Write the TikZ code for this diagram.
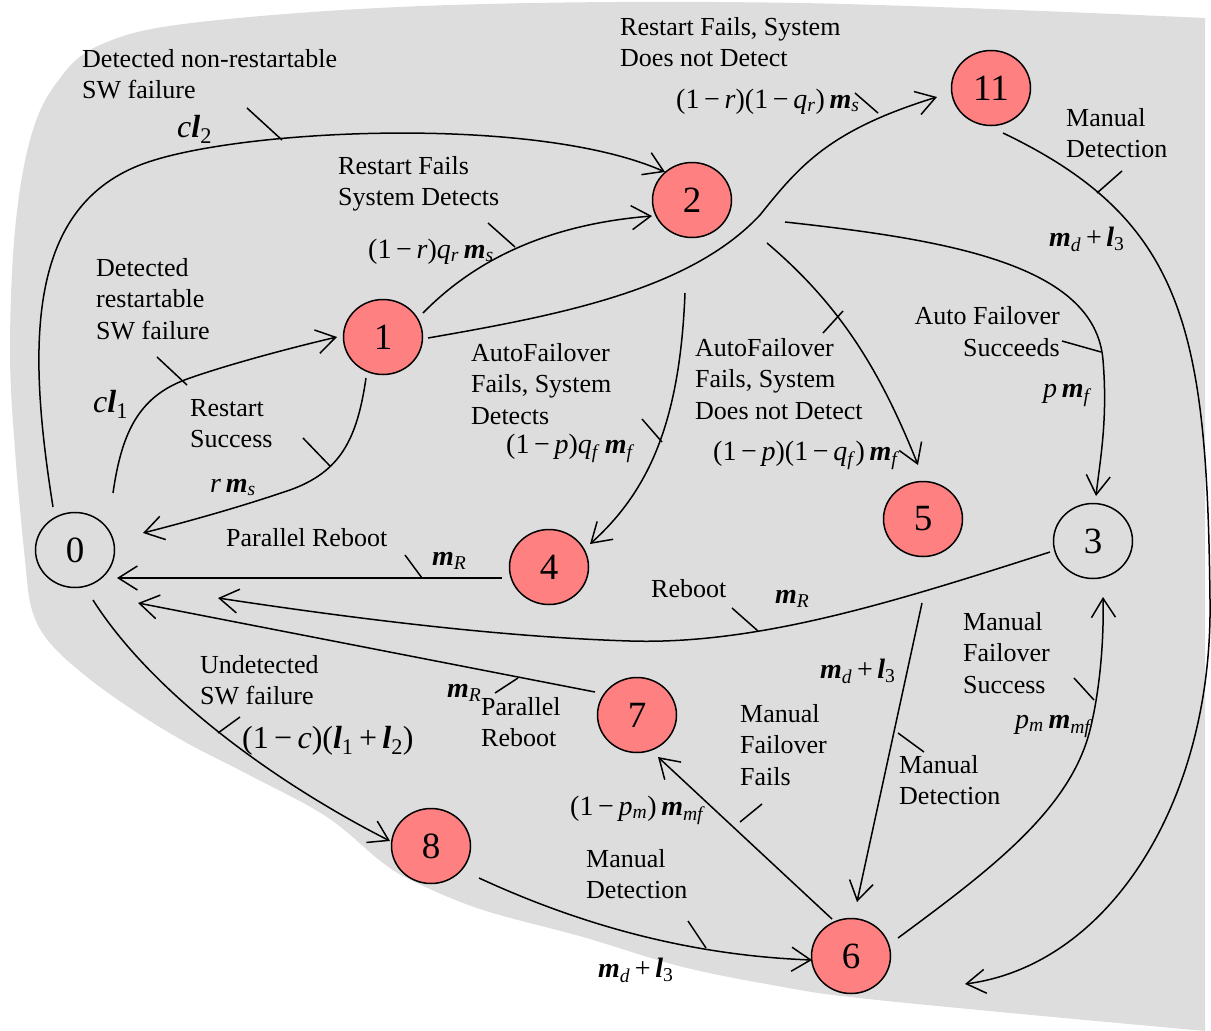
\documentclass[tikz,border=0pt]{standalone}
\usepackage{fontspec}
\setmainfont{Liberation Serif}
\usetikzlibrary{arrows.meta,shapes.geometric,calc}
\definecolor{bggrey}{RGB}{221,221,221}
\definecolor{pinkfill}{RGB}{255,128,128}
\newcommand{\vm}{\textbf{\textit{m}}}
\newcommand{\vl}{\textbf{\textit{l}}}
\newcommand{\mi}[1]{\textit{#1}}
\newcommand{\sbx}[1]{\textsubscript{#1}}
\begin{document}
\begin{tikzpicture}[x=1pt,y=-1pt,
  state/.style={ellipse, draw, line width=1.5pt, minimum width=79pt, minimum height=75pt, inner sep=0pt, font=\fontsize{37}{40}\selectfont},
  fail/.style={state, fill=pinkfill},
  lbl/.style={anchor=base west, inner sep=0pt, align=left, font=\fontsize{26}{31.5}\selectfont},
  mlbl/.style={anchor=base west, inner sep=0pt, font=\fontsize{28}{34}\selectfont},
  blbl/.style={anchor=base west, inner sep=0pt, font=\fontsize{32}{36}\selectfont},
  edge/.style={line width=1.5pt, -{Straight Barb[length=19pt,width=24pt]}},
  tick/.style={line width=1.5pt}]
\useasboundingbox (0,0) rectangle (1211,1031);
% background blob
\fill[bggrey] plot[smooth, tension=0.6] coordinates {(1205,18) (800,3) (450,5) (200,22) (100,45) (55,85) (30,140) (15,230) (10,350) (15,450) (25,560) (32,610) (50,643) (87,677) (133,710) (187,743) (253,777) (327,817) (383,863) (417,883) (483,910) (583,937) (683,967) (783,987) (850,997) (1000,1012) (1205,1031)} -- cycle;
% states
\node[state] (n0) at (75,550) {0};
\node[fail] (n1) at (383,337) {1};
\node[fail] (n2) at (692,200) {2};
\node[fail] (n11) at (991,88) {11};
\node[fail] (n4) at (549,567) {4};
\node[fail] (n5) at (923,519) {5};
\node[state] (n3) at (1093,541) {3};
\node[fail] (n7) at (637,715) {7};
\node[fail] (n8) at (431,846) {8};
\node[fail] (n6) at (851,956) {6};
% E1 0 -> 2
\draw[edge] ($(n0.center)+(-22,-43)$) .. controls (28,350) and (25,210) .. (140,165) .. controls (232,129) and (535,114) .. ($(n2.center)+(-27,-28)$);
\draw[tick] (247,108) -- (282,140);
\node[lbl] (t1) at (82,98.5) {Detected non-restartable\\SW failure};
\node[blbl] (m1) at (177,137) {\mi{c}\vl\sbx{2}};
% E2 0 -> 1
\draw[edge] ($(n0.center)+(38,-57)$) .. controls (122,430) and (140,395) .. (190,378) .. controls (230,364) and (290,348) .. ($(n1.center)+(-46,0)$);
\draw[tick] (157,357) -- (187,385);
\node[lbl] (t2) at (96,339) {Detected\\restartable\\SW failure};
\node[blbl] (m2) at (93,412) {\mi{c}\vl\sbx{1}};
% E3 1 -> 0
\draw[edge] ($(n1.center)+(-17,41)$) .. controls (357,440) and (340,472) .. (290,490) .. controls (240,507) and (190,521) .. ($(n0.center)+(68,-17)$);
\draw[tick] (303,438) -- (330,466);
\node[lbl] (t3) at (190,447.5) {Restart\\Success};
\node[mlbl] (m3) at (210,492) {\mi{r}\,\vm\sbx{\mi{s}}};
% E4 1 -> 2
\draw[edge] ($(n1.center)+(40,-24)$) .. controls (470,265) and (540,225) .. ($(n2.center)+(-40,16)$);
\draw[tick] (488,223) -- (515,247);
\node[lbl] (t4) at (338,205.5) {Restart Fails\\System Detects};
\node[mlbl] (m4) at (368,258) {(1\,−\,\mi{r})\mi{q}\sbx{\mi{r}}\,\vm\sbx{\mi{s}}};
% E5 1 -> 11
\draw[edge] ($(n1.center)+(45,1)$) .. controls (560,315) and (690,290) .. (760,215) .. controls (800,165) and (830,130) .. ($(n11.center)+(-54,9)$);
\draw[tick] (855,93) -- (878,113);
\node[lbl] (t5) at (620,66.5) {Restart Fails, System\\Does not Detect};
\node[mlbl] (m5) at (676,108) {(1\,−\,\mi{r})(1\,−\,\mi{q}\sbx{\mi{r}})\,\vm\sbx{\mi{s}}};
% E6 2 -> 3
\draw[edge] ($(n2.center)+(93,22)$) .. controls (950,240) and (1095,265) .. (1103,360) .. controls (1108,420) and (1100,460) .. ($(n3.center)+(3,-45)$);
\draw[tick] (1062,341) -- (1101,352);
\node[lbl, align=right, anchor=base east] (t6) at (1060,356) {Auto Failover\\Succeeds};
\node[mlbl] (m6) at (1043,397) {\mi{p}\,\vm\sbx{\mi{f}}};
% E7 2 -> 5
\draw[edge] ($(n2.center)+(75,43)$) .. controls (840,305) and (880,370) .. ($(n5.center)+(-5,-54)$);
\draw[tick] (823,333) -- (843,311);
\node[lbl] (t7) at (695,419) {AutoFailover\\Fails, System\\Does not Detect};
\node[mlbl] (m7) at (713,460) {(1\,−\,\mi{p})(1\,−\,\mi{q}\sbx{\mi{f}})\,\vm\sbx{\mi{f}}};
% E8 2 -> 4
\draw[edge] ($(n2.center)+(-7,93)$) .. controls (680,420) and (650,490) .. ($(n4.center)+(41,-23)$);
\draw[tick] (642,419) -- (662,442);
\node[lbl] (t8) at (471,424) {AutoFailover\\Fails, System\\Detects};
\node[mlbl] (m8) at (506,453) {(1\,−\,\mi{p})\mi{q}\sbx{\mi{f}}\,\vm\sbx{\mi{f}}};
% E9 4 -> 0
\draw[edge] ($(n4.center)+(-47,11)$) -- ($(n0.center)+(42,28)$);
\draw[tick] (405,555) -- (422,578);
\node[lbl] (t9) at (226,546) {Parallel Reboot};
\node[mlbl] (m9) at (432,565) {\vm\sbx{\mi{R}}};
% E10 3 -> 0
\draw[edge] ($(n3.center)+(-43,11)$) .. controls (900,600) and (760,645) .. (630,641) .. controls (500,637) and (350,618) .. ($(n0.center)+(143,48)$);
\draw[tick] (732,608) -- (758,631);
\node[lbl] (t10) at (651,597) {Reboot};
\node[mlbl] (m10) at (775,603) {\vm\sbx{\mi{R}}};
% E11 7 -> 0
\draw[edge] ($(n7.center)+(-42,-23)$) -- ($(n0.center)+(63,53)$);
\draw[tick] (495,693) -- (518,678);
\node[lbl] (t11) at (481,746.5) {Parallel\\Reboot};
\node[mlbl] (m11) at (447,697) {\vm\sbx{\mi{R}}};
% E12 0 -> 8
\draw[edge] ($(n0.center)+(18,50)$) .. controls (150,690) and (270,780) .. ($(n8.center)+(-41,-5)$);
\draw[tick] (218,733) -- (240,717);
\node[lbl] (t12) at (200,704.5) {Undetected\\SW failure};
\node[blbl] (m12) at (242,748) {(1\,−\,\mi{c})(\vl\sbx{1}\,+\,\vl\sbx{2})};
% E13 8 -> 6
\draw[edge] ($(n8.center)+(48,32)$) .. controls (570,920) and (680,955) .. ($(n6.center)+(-39,4)$);
\draw[tick] (688,921) -- (706,948);
\node[lbl] (t13) at (586,898.5) {Manual\\Detection};
\node[mlbl] (m13) at (598,977) {\vm\sbx{\mi{d}}\,+\,\vl\sbx{3}};
% E14 6 -> 7
\draw[edge] ($(n6.center)+(-19,-37)$) -- ($(n7.center)+(21,42)$);
\draw[tick] (740,822) -- (762,804);
\node[lbl] (t14) at (740,785) {Manual\\Failover\\Fails};
\node[mlbl] (m14) at (570,815) {(1\,−\,\mi{p}\sbx{\mi{m}})\,\vm\sbx{\mi{mf}}};
% E15 6 -> 3
\draw[edge] ($(n6.center)+(47,-18)$) .. controls (990,870) and (1070,810) .. (1090,730) .. controls (1100,690) and (1104,640) .. ($(n3.center)+(10,56)$);
\draw[tick] (1074,678) -- (1094,700);
\node[lbl] (t15) at (963,693) {Manual\\Failover\\Success};
\node[mlbl] (m15) at (1015,728) {\mi{p}\sbx{\mi{m}}\,\vm\sbx{\mi{mf}}};
% E16 5 -> 6
\draw[edge] ($(n5.center)+(-1,84)$) -- ($(n6.center)+(6,-54)$);
\draw[tick] (898,733) -- (924,752);
\node[lbl] (t16) at (899,804.5) {Manual\\Detection};
\node[mlbl] (m16) at (820,678) {\vm\sbx{\mi{d}}\,+\,\vl\sbx{3}};
% E17 11 -> 6
\draw[edge] ($(n11.center)+(12,45)$) .. controls (1185,220) and (1207,330) .. (1210,600) .. controls (1213,800) and (1110,965) .. ($(n6.center)+(114,28)$);
\draw[tick] (1097,193) -- (1122,171);
\node[lbl] (t17) at (1066,157.5) {Manual\\Detection};
\node[mlbl] (m17) at (1049,246) {\vm\sbx{\mi{d}}\,+\,\vl\sbx{3}};
\end{tikzpicture}
\end{document}
